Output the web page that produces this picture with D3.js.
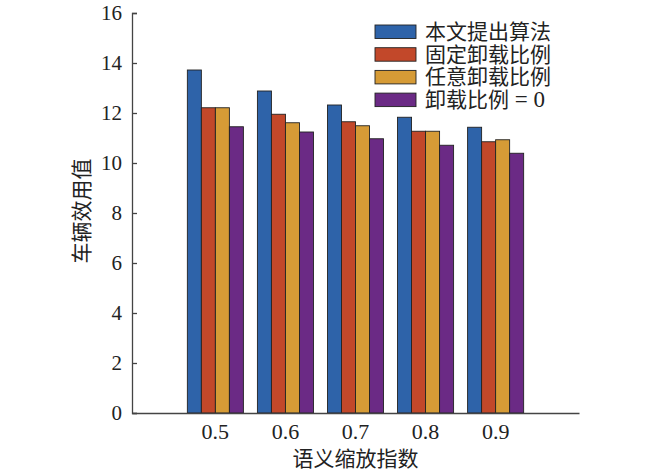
<!DOCTYPE html>
<html>
<head>
<meta charset="utf-8">
<script src="https://cdn.jsdelivr.net/npm/d3@7"></script>
<style>
  body { margin: 0; background: #fff; }
  svg text { fill: #222; }
</style>
</head>
<body>
<div id="chart"></div>
<script>
// categories on the x axis
var categories = ["0.5", "0.6", "0.7", "0.8", "0.9"];

// series names (legend order)
var seriesNames = ["本文提出算法", "固定卸载比例", "任意卸载比例", "卸载比例 = 0"];
var seriesColors = ["#2e63a9", "#c2482a", "#d69b36", "#6b2a85"];

// values, one array per series
var proposed = [13.72, 12.88, 12.32, 11.83, 11.43];
var fixedRatio = [12.21, 11.95, 11.65, 11.27, 10.85];
var randomRatio = [12.21, 11.61, 11.49, 11.27, 10.93];
var zeroRatio = [11.45, 11.24, 10.97, 10.71, 10.39];

var yTicks = [0, 2, 4, 6, 8, 10, 12, 14, 16];

var allSeries = [proposed, fixedRatio, randomRatio, zeroRatio];

var serif = "'Liberation Serif', 'Times New Roman', serif";
var cjk = "'Noto Sans CJK SC', sans-serif";

// Set up SVG dimensions
var width = 650;
var height = 473;
var margin = { top: 13, right: 71, bottom: 60, left: 132 };
var innerWidth = width - margin.left - margin.right;
var innerHeight = height - margin.top - margin.bottom;

var svg = d3
  .select("#chart")
  .append("svg")
  .attr("width", width)
  .attr("height", height);

var g = svg
  .append("g")
  .attr("transform", "translate(" + margin.left + "," + margin.top + ")");

// Scales
var xScale = d3
  .scaleBand()
  .domain(categories)
  .range([0, innerWidth])
  .paddingInner(0)
  .paddingOuter(0.69);

var groupWidth = xScale.bandwidth() * 0.8;
var xSub = d3
  .scaleBand()
  .domain(d3.range(seriesNames.length))
  .range([(xScale.bandwidth() - groupWidth) / 2, (xScale.bandwidth() + groupWidth) / 2]);

var yScale = d3.scaleLinear().domain([0, 16]).range([innerHeight, 0]);

// Bars
var groups = g
  .selectAll(".group")
  .data(categories)
  .enter()
  .append("g")
  .attr("class", "group")
  .attr("transform", (d) => "translate(" + xScale(d) + ",0)");

groups
  .selectAll("rect")
  .data((d, i) => allSeries.map((s, k) => ({ k: k, value: s[i] })))
  .enter()
  .append("rect")
  .attr("x", (d) => xSub(d.k))
  .attr("width", xSub.bandwidth())
  .attr("y", (d) => yScale(d.value))
  .attr("height", (d) => innerHeight - yScale(d.value))
  .attr("fill", (d) => seriesColors[d.k])
  .attr("stroke", "#222")
  .attr("stroke-width", 0.9);

// Y axis (ticks point inward)
var yAxis = d3
  .axisLeft(yScale)
  .tickValues(yTicks)
  .tickSizeInner(-5)
  .tickSizeOuter(-5)
  .tickPadding(10)
  .tickFormat(d3.format("d"));

var yG = g.append("g").call(yAxis);
yG.selectAll("path, line").attr("stroke", "#444").attr("stroke-width", 1.3);
yG.selectAll("text")
  .attr("font-family", serif)
  .attr("font-size", "21px")
  .attr("fill", "#222");

// X axis (no tick marks)
var xAxis = d3.axisBottom(xScale).tickSize(0).tickPadding(10);
var xG = g
  .append("g")
  .attr("transform", "translate(0," + innerHeight + ")")
  .call(xAxis);
xG.select(".domain").attr("stroke", "#444").attr("stroke-width", 1.3);
xG.selectAll("text")
  .attr("font-family", serif)
  .attr("font-size", "22px")
  .attr("fill", "#222");

// Axis titles
svg
  .append("text")
  .attr("x", margin.left + xScale("0.7") + xScale.bandwidth() / 2)
  .attr("y", 466)
  .attr("text-anchor", "middle")
  .attr("font-family", cjk)
  .attr("font-size", "21px")
  .text("语义缩放指数");

svg
  .append("text")
  .attr("transform", "translate(89,211) rotate(-90)")
  .attr("text-anchor", "middle")
  .attr("font-family", cjk)
  .attr("font-size", "21px")
  .text("车辆效用值");

// Legend
var legend = svg
  .append("g")
  .attr("transform", "translate(375,25)");

var legendRows = legend
  .selectAll(".row")
  .data(seriesNames)
  .enter()
  .append("g")
  .attr("class", "row")
  .attr("transform", (d, i) => "translate(0," + i * 22.7 + ")");

legendRows
  .append("rect")
  .attr("width", 41)
  .attr("height", 13.5)
  .attr("fill", (d, i) => seriesColors[i])
  .attr("stroke", "#222")
  .attr("stroke-width", 0.9);

// split "= 0" off so the digits use the serif face like the ticks
var legendText = legendRows
  .append("text")
  .attr("x", 50)
  .attr("y", 14)
  .attr("font-family", cjk)
  .attr("font-size", "21px");

legendText.each(function (d) {
  var t = d3.select(this);
  var parts = d.split(" = ");
  t.append("tspan").text(parts[0]);
  if (parts.length > 1) {
    t.append("tspan")
      .attr("font-family", serif)
      .attr("font-size", "23px")
      .text(" = " + parts[1]);
  }
});
</script>
</body>
</html>
